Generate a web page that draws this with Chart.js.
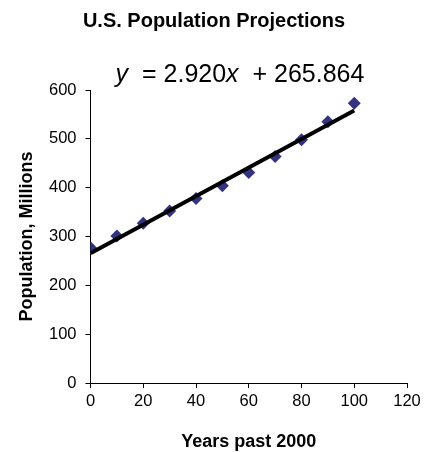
<!DOCTYPE html>
<html>
<head>
<meta charset="utf-8">
<script src="https://cdn.jsdelivr.net/npm/chart.js@4"></script>
<style>
  html, body { margin: 0; padding: 0; background: #fff; }
  #wrap { width: 427px; height: 452px; }
</style>
</head>
<body>
<div id="wrap"><canvas id="grafico" width="427" height="452"></canvas></div>
<script>
// dados
const anos = [0, 10, 20, 30, 40, 50, 60, 70, 80, 90, 100];
const populacao = [277, 301, 327, 352, 378, 404, 431, 464, 498, 535, 573];
const inclinacao = 2.920;
const intercepto = 265.864;
const xTicks = [0, 20, 40, 60, 80, 100, 120];
const yTicks = [0, 100, 200, 300, 400, 500, 600];

const FONTE = "'Liberation Sans', Arial, sans-serif";

const pontos = anos.map((a, i) => ({ x: a, y: populacao[i] }));
const linha = [anos[0], anos[anos.length - 1]].map(a => ({ x: a, y: inclinacao * a + intercepto }));

// titulo e equacao
const textos = {
  id: 'textos',
  afterDraw(chart) {
    const ctx = chart.ctx;
    ctx.save();
    ctx.fillStyle = '#000';
    ctx.textBaseline = 'alphabetic';
    ctx.textAlign = 'center';
    ctx.font = 'bold 20px ' + FONTE;
    ctx.fillText('U.S. Population Projections', 214, 27);

    const partes = [
      ['y', 'italic'],
      ['  = ' + inclinacao.toFixed(3), 'normal'],
      ['x', 'italic'],
      ['  + ' + intercepto.toFixed(3), 'normal']
    ];
    ctx.textAlign = 'left';
    let total = 0;
    partes.forEach(p => { ctx.font = p[1] + ' 25px ' + FONTE; total += ctx.measureText(p[0]).width; });
    let x = 240 - total / 2;
    partes.forEach(p => {
      ctx.font = p[1] + ' 25px ' + FONTE;
      ctx.fillText(p[0], x, 82);
      x += ctx.measureText(p[0]).width;
    });
    ctx.restore();
  }
};

const ctx = document.getElementById('grafico').getContext('2d');
new Chart(ctx, {
  type: 'scatter',
  data: {
    datasets: [
      {
        label: 'Linear',
        data: linha,
        showLine: true,
        borderColor: '#000',
        borderWidth: 4,
        pointRadius: 0,
        fill: false
      },
      {
        label: 'Population',
        data: pontos,
        pointStyle: 'rectRot',
        pointRadius: 6.5,
        backgroundColor: '#333380',
        borderColor: '#333380',
        borderWidth: 0
      }
    ]
  },
  options: {
    responsive: false,
    animation: false,
    layout: { padding: { top: 90, right: 20, left: 0, bottom: 0 } },
    plugins: {
      legend: { display: false },
      tooltip: { enabled: false }
    },
    scales: {
      x: {
        type: 'linear',
        min: 0,
        max: 120,
        afterBuildTicks: s => { s.ticks = xTicks.map(v => ({ value: v })); },
        afterFit: s => { s.height = 69; },
        grid: { display: true, drawOnChartArea: false, drawTicks: true, tickLength: 5, color: '#000' },
        border: { display: true, color: '#000', width: 1 },
        ticks: { color: '#000', padding: 4, maxRotation: 0, font: { family: FONTE, size: 16.5 } },
        title: {
          display: true,
          text: 'Years past 2000',
          color: '#000',
          padding: { top: 0, bottom: 1 },
          font: { family: FONTE, size: 18, weight: 'bold', lineHeight: 1 }
        }
      },
      y: {
        min: 0,
        max: 600,
        afterBuildTicks: s => { s.ticks = yTicks.map(v => ({ value: v })); },
        afterFit: s => { s.width = 90.5; },
        grid: { display: true, drawOnChartArea: false, drawTicks: true, tickLength: 5, color: '#000' },
        border: { display: true, color: '#000', width: 1 },
        ticks: { color: '#000', padding: 9, font: { family: FONTE, size: 16.5 } },
        title: {
          display: true,
          text: 'Population, Millions',
          color: '#000',
          padding: { top: 18, bottom: 0 },
          font: { family: FONTE, size: 18, weight: 'bold', lineHeight: 1 }
        }
      }
    }
  },
  plugins: [textos]
});
</script>
</body>
</html>
